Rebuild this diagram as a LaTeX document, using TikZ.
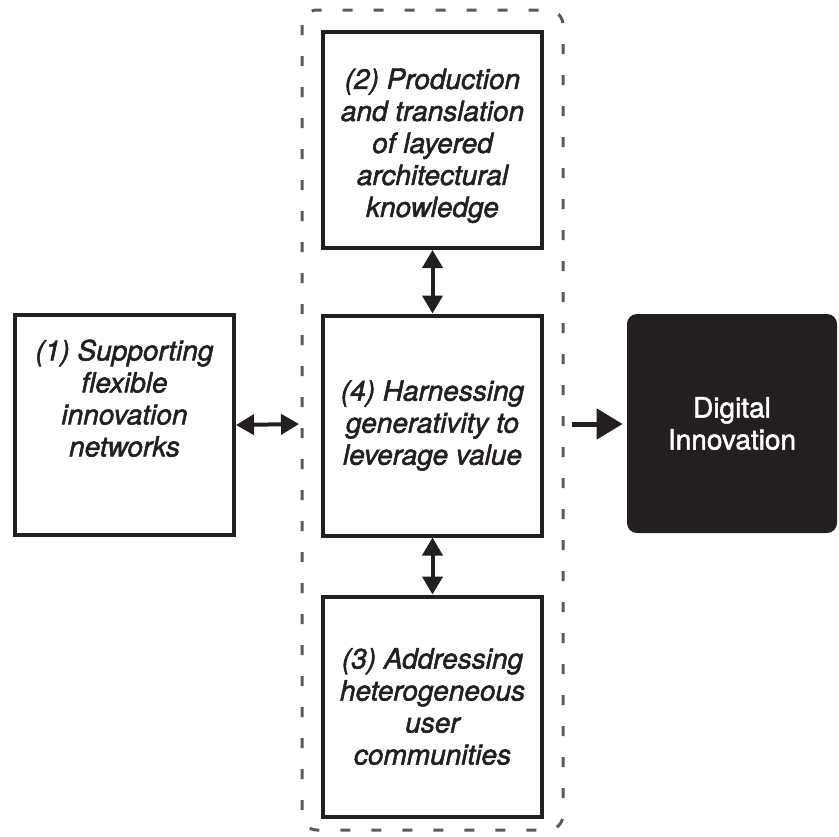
\documentclass[tikz,border=0pt]{standalone}
\usepackage{fontspec}
\setmainfont{TeX Gyre Heros}[FakeBold=1.8]
\usetikzlibrary{arrows.meta}
\definecolor{inkblack}{HTML}{231F20}
\definecolor{dashgray}{HTML}{5A5A5C}

\begin{document}
\begin{tikzpicture}[x=0.5pt,y=-0.5pt,
    box/.style={draw=inkblack,line width=2pt,minimum width=109.5pt,minimum height=110pt,inner sep=0pt,align=center,text=inkblack,font=\fontsize{14}{16}\selectfont\itshape},
    outcome/.style={fill=inkblack,rounded corners=5pt,minimum width=105pt,minimum height=109.5pt,inner sep=0pt,align=center,text=white,font=\fontsize{14}{16}\selectfont},
    link/.style={line width=2pt,inkblack,{Triangle[length=9pt,width=10pt]}-{Triangle[length=9pt,width=10pt]}},
    push/.style={line width=2.5pt,inkblack,-{Triangle[length=13pt,width=15pt]}}]
    \useasboundingbox (0,0) rectangle (839,836);

    % dashed group round (2), (4) and (3)
    \coordinate (groupnw) at (302,10);
    \coordinate (groupse) at (563,830);
    \draw[dashgray,line width=1.5pt,dash pattern=on 5pt off 10.5pt,rounded corners=7.5pt](groupnw) rectangle (groupse);

    \node[box,text depth=27pt] (networks) at (124.5,425) {(1) Supporting\\flexible\\innovation\\networks};
    \node[box,minimum height=108pt,text height=80pt] (knowledge) at (432.5,140) {(2) Production\\and translation\\of layered\\architectural\\knowledge};
    \node[box] (generativity) at (432.5,425.5) {(4) Harnessing\\generativity to\\leverage value};
    \node[box] (communities) at (432.5,706.5) {(3) Addressing\\heterogeneous\\user\\communities};
    \node[outcome] (innovation) at (732,423.5) {Digital\\Innovation};

    \coordinate (groupwest) at (299,424);
    \coordinate (groupeast) at (572,424);

    \draw[link](networks.east)--(groupwest);
    \draw[link](knowledge.south)--(generativity.north);
    \draw[link](generativity.south)--(communities.north);
    \draw[push,shorten >=2pt](groupeast)--(groupeast -| innovation.west);
\end{tikzpicture}
\end{document}
